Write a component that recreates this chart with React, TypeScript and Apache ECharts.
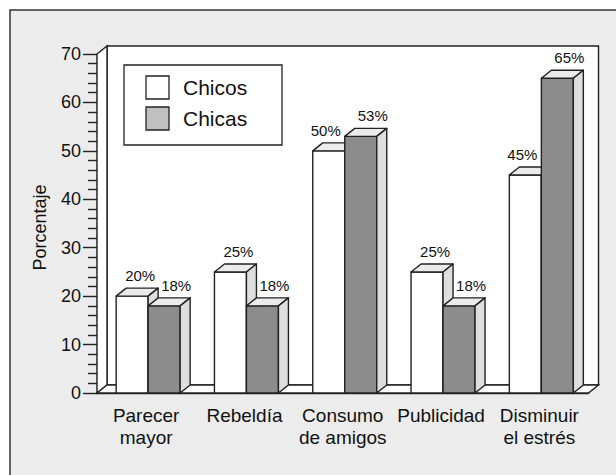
import React, { useEffect, useRef } from "react";
import * as echarts from "echarts";

const categories = ["Parecer\nmayor", "Rebeldía", "Consumo\nde amigos", "Publicidad", "Disminuir\nel estrés"];
const chicos = [20, 25, 50, 25, 45];
const chicas = [18, 18, 53, 18, 65];
const seriesNames = ["Chicos", "Chicas"];
const legendColors = ["#ffffff", "#c0c0c0"];
const yTicks = { min: 0, max: 70, interval: 10 };

const FONT = "'Liberation Sans', Arial, Helvetica, sans-serif";
const LINE = "#222";
const LW = 1.4;
const DX = 10;
const DY = 8;
const BW = 32;
const SHIFT = 2;

function barRenderer(idx: number, frontColor: string, other: number[]) {
  return (params: any, api: any) => {
    const cat = api.value(0);
    const val = api.value(1);
    const top = api.coord([cat, val]);
    const base = api.coord([cat, 0]);
    const cx = top[0] + SHIFT;
    const x0 = idx === 0 ? cx - BW : cx;
    const x1 = x0 + BW;
    const yT = top[1];
    const yB = base[1];
    const st = { stroke: LINE, lineWidth: LW, lineJoin: "round" };
    const labelOffset = idx === 1 ? 12 : val < other[params.dataIndex] ? -3 : 8;
    return {
      type: "group",
      children: [
        { type: "rect", shape: { x: x0, y: yT, width: BW, height: yB - yT }, style: { fill: frontColor, ...st } },
        {
          type: "polygon",
          shape: { points: [[x0, yT], [x0 + DX, yT - DY], [x1 + DX, yT - DY], [x1, yT]] },
          style: { fill: "#ebebeb", ...st },
        },
        {
          type: "polygon",
          shape: { points: [[x1, yT], [x1 + DX, yT - DY], [x1 + DX, yB - DY], [x1, yB]] },
          style: { fill: "#dedede", ...st },
        },
        {
          type: "text",
          x: (x0 + x1) / 2 + labelOffset,
          y: yT - 13,
          style: {
            text: `${val}%`,
            fill: "#111",
            font: `15px ${FONT}`,
            textAlign: "center",
            textVerticalAlign: "bottom",
          },
        },
      ],
    };
  };
}

function wallsRenderer(params: any, api: any) {
  const { x, y, width: w, height: h } = params.coordSys;
  const st = { stroke: LINE, lineWidth: LW, fill: "#fff" };
  return {
    type: "group",
    children: [
      { type: "rect", shape: { x: x + DX, y: y - DY, width: w, height: h }, style: st },
      {
        type: "polygon",
        shape: { points: [[x, y], [x + DX, y - DY], [x + DX, y + h - DY], [x, y + h]] },
        style: st,
      },
      {
        type: "polygon",
        shape: { points: [[x, y + h], [x + DX, y + h - DY], [x + w + DX, y + h - DY], [x + w, y + h]] },
        style: st,
      },
    ],
  };
}

export default function App() {
  const ref = useRef<HTMLDivElement>(null);
  useEffect(() => {
    document.body.style.margin = "0";
    const chart = echarts.init(ref.current!, null, { renderer: "svg" });
    const LX = 124;
    const LY = 65;
    const legendItems: any[] = [
      {
        type: "rect",
        z: 20,
        shape: { x: LX, y: LY, width: 158, height: 80 },
        style: { fill: "#fff", stroke: LINE, lineWidth: 1.3 },
      },
    ];
    seriesNames.forEach((name, i) => {
      legendItems.push({
        type: "rect",
        z: 21,
        shape: { x: LX + 22, y: LY + 11 + i * 31, width: 23, height: 23 },
        style: { fill: legendColors[i], stroke: LINE, lineWidth: 1.3 },
      });
      legendItems.push({
        type: "text",
        z: 21,
        x: LX + 59,
        y: LY + 22.5 + i * 31,
        style: {
          text: name,
          font: `21px ${FONT}`,
          fill: "#111",
          textVerticalAlign: "middle",
        },
      });
    });
    chart.setOption({
      animation: false,
      textStyle: { fontFamily: FONT },
      graphic: [
        {
          type: "rect",
          z: -10,
          silent: true,
          shape: { x: 10, y: 10, width: 640, height: 500 },
          style: { fill: "#ececec", stroke: "#333", lineWidth: 1.5 },
        },
        ...legendItems,
      ],
      grid: { left: 97, top: 54, width: 491.5, bottom: 82, containLabel: false },
      xAxis: {
        type: "category",
        data: categories,
        axisLine: { show: true, lineStyle: { color: LINE, width: LW } },
        axisTick: { show: false },
        axisLabel: {
          interval: 0,
          color: "#111",
          fontSize: 19,
          lineHeight: 22,
          margin: 11,
          fontFamily: FONT,
          verticalAlign: "top",
        },
      },
      yAxis: {
        type: "value",
        min: yTicks.min,
        max: yTicks.max,
        interval: yTicks.interval,
        name: "Porcentaje",
        nameLocation: "middle",
        nameRotate: 90,
        nameGap: 48,
        nameTextStyle: { fontSize: 18, color: "#111", fontFamily: FONT, padding: [0, 0, 0, -8] },
        axisLine: { show: true, lineStyle: { color: LINE, width: LW } },
        axisTick: { show: true, length: 14, lineStyle: { color: LINE, width: LW } },
        minorTick: { show: true, splitNumber: 5, length: 9, lineStyle: { color: LINE, width: LW } },
        splitLine: { show: false },
        axisLabel: { color: "#111", fontSize: 18, margin: 16, fontFamily: FONT },
      },
      series: [
        {
          type: "custom",
          name: "walls",
          z: 1,
          silent: true,
          renderItem: wallsRenderer,
          data: [[0, 0]],
          encode: { x: 0, y: 1 },
        },
        {
          type: "custom",
          name: seriesNames[0],
          z: 2,
          renderItem: barRenderer(0, "#ffffff", chicas),
          data: chicos.map((v, i) => [i, v]),
          encode: { x: 0, y: 1 },
        },
        {
          type: "custom",
          name: seriesNames[1],
          z: 2,
          renderItem: barRenderer(1, "#8c8c8c", chicos),
          data: chicas.map((v, i) => [i, v]),
          encode: { x: 0, y: 1 },
        },
      ],
    });
    return () => chart.dispose();
  }, []);
  return <div ref={ref} style={{ width: 616, height: 475 }} />;
}
